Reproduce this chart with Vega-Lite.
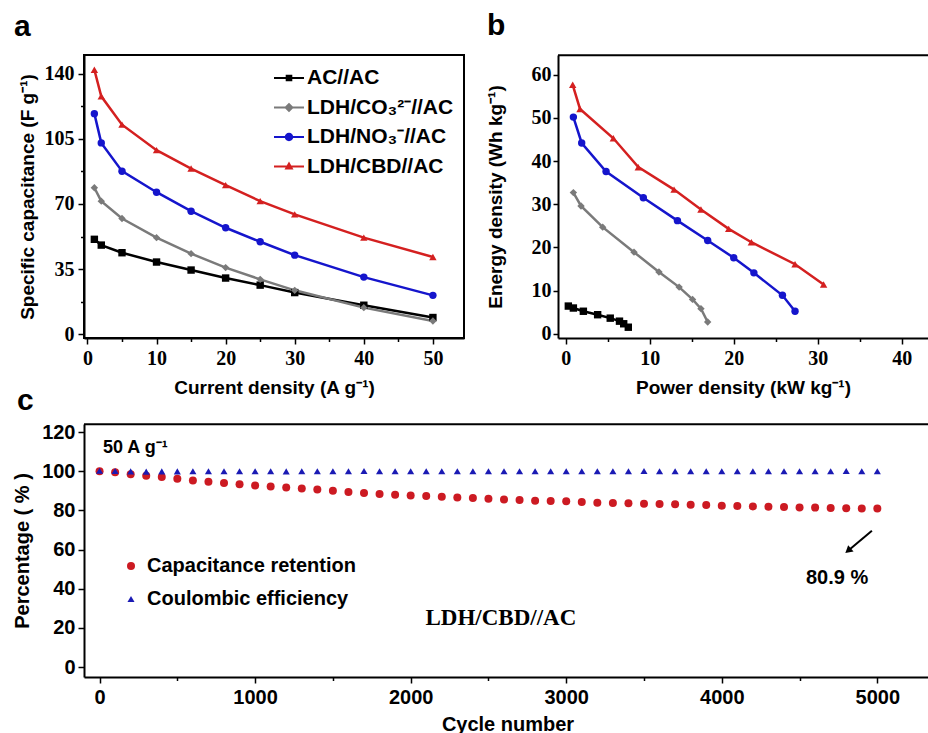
{
  "$schema": "https://vega.github.io/schema/vega-lite/v6.json",
  "background": "white",
  "padding": {"left": 12, "top": 11, "right": 0, "bottom": 0},
  "datasets": {
    "cap": [
      {"s": "AC//AC", "j": 1, "C": 51.0}, {"s": "AC//AC", "j": 2, "C": 47.9}, {"s": "AC//AC", "j": 5, "C": 43.8}, {"s": "AC//AC", "j": 10, "C": 38.8}, {"s": "AC//AC", "j": 15, "C": 34.5}, {"s": "AC//AC", "j": 20, "C": 30.2}, {"s": "AC//AC", "j": 25, "C": 26.4}, {"s": "AC//AC", "j": 30, "C": 22.4}, {"s": "AC//AC", "j": 40, "C": 15.6}, {"s": "AC//AC", "j": 50, "C": 9.0},
      {"s": "LDH/CO₃²⁻//AC", "j": 1, "C": 78.7}, {"s": "LDH/CO₃²⁻//AC", "j": 2, "C": 71.5}, {"s": "LDH/CO₃²⁻//AC", "j": 5, "C": 62.2}, {"s": "LDH/CO₃²⁻//AC", "j": 10, "C": 51.9}, {"s": "LDH/CO₃²⁻//AC", "j": 15, "C": 43.3}, {"s": "LDH/CO₃²⁻//AC", "j": 20, "C": 35.8}, {"s": "LDH/CO₃²⁻//AC", "j": 25, "C": 29.5}, {"s": "LDH/CO₃²⁻//AC", "j": 30, "C": 23.6}, {"s": "LDH/CO₃²⁻//AC", "j": 40, "C": 14.3}, {"s": "LDH/CO₃²⁻//AC", "j": 50, "C": 7.1},
      {"s": "LDH/NO₃⁻//AC", "j": 1, "C": 118.5}, {"s": "LDH/NO₃⁻//AC", "j": 2, "C": 102.8}, {"s": "LDH/NO₃⁻//AC", "j": 5, "C": 87.6}, {"s": "LDH/NO₃⁻//AC", "j": 10, "C": 76.3}, {"s": "LDH/NO₃⁻//AC", "j": 15, "C": 66.1}, {"s": "LDH/NO₃⁻//AC", "j": 20, "C": 57.2}, {"s": "LDH/NO₃⁻//AC", "j": 25, "C": 49.7}, {"s": "LDH/NO₃⁻//AC", "j": 30, "C": 42.5}, {"s": "LDH/NO₃⁻//AC", "j": 40, "C": 30.7}, {"s": "LDH/NO₃⁻//AC", "j": 50, "C": 20.9},
      {"s": "LDH/CBD//AC", "j": 1, "C": 142.1}, {"s": "LDH/CBD//AC", "j": 2, "C": 127.8}, {"s": "LDH/CBD//AC", "j": 5, "C": 112.6}, {"s": "LDH/CBD//AC", "j": 10, "C": 98.9}, {"s": "LDH/CBD//AC", "j": 15, "C": 89.0}, {"s": "LDH/CBD//AC", "j": 20, "C": 80.1}, {"s": "LDH/CBD//AC", "j": 25, "C": 71.5}, {"s": "LDH/CBD//AC", "j": 30, "C": 64.4}, {"s": "LDH/CBD//AC", "j": 40, "C": 51.9}, {"s": "LDH/CBD//AC", "j": 50, "C": 41.5}
    ],
    "energy": [
      {"s": "AC//AC", "P": 0.31, "E": 6.4}, {"s": "AC//AC", "P": 0.91, "E": 5.95}, {"s": "AC//AC", "P": 2.1, "E": 5.2}, {"s": "AC//AC", "P": 3.8, "E": 4.4}, {"s": "AC//AC", "P": 5.3, "E": 3.6}, {"s": "AC//AC", "P": 6.4, "E": 2.9}, {"s": "AC//AC", "P": 6.9, "E": 2.3}, {"s": "AC//AC", "P": 7.45, "E": 1.5},
      {"s": "LDH/CO₃²⁻//AC", "P": 0.91, "E": 32.7}, {"s": "LDH/CO₃²⁻//AC", "P": 1.82, "E": 29.6}, {"s": "LDH/CO₃²⁻//AC", "P": 4.4, "E": 24.7}, {"s": "LDH/CO₃²⁻//AC", "P": 8.13, "E": 18.9}, {"s": "LDH/CO₃²⁻//AC", "P": 11.1, "E": 14.3}, {"s": "LDH/CO₃²⁻//AC", "P": 13.5, "E": 10.8}, {"s": "LDH/CO₃²⁻//AC", "P": 15.1, "E": 7.95}, {"s": "LDH/CO₃²⁻//AC", "P": 16.1, "E": 5.8}, {"s": "LDH/CO₃²⁻//AC", "P": 16.9, "E": 2.7},
      {"s": "LDH/NO₃⁻//AC", "P": 0.91, "E": 50.2}, {"s": "LDH/NO₃⁻//AC", "P": 1.9, "E": 44.2}, {"s": "LDH/NO₃⁻//AC", "P": 4.8, "E": 37.6}, {"s": "LDH/NO₃⁻//AC", "P": 9.24, "E": 31.5}, {"s": "LDH/NO₃⁻//AC", "P": 13.3, "E": 26.2}, {"s": "LDH/NO₃⁻//AC", "P": 16.9, "E": 21.6}, {"s": "LDH/NO₃⁻//AC", "P": 20.0, "E": 17.6}, {"s": "LDH/NO₃⁻//AC", "P": 22.4, "E": 14.1}, {"s": "LDH/NO₃⁻//AC", "P": 25.8, "E": 8.9}, {"s": "LDH/NO₃⁻//AC", "P": 27.3, "E": 5.2},
      {"s": "LDH/CBD//AC", "P": 0.83, "E": 57.7}, {"s": "LDH/CBD//AC", "P": 1.7, "E": 52.1}, {"s": "LDH/CBD//AC", "P": 5.67, "E": 45.3}, {"s": "LDH/CBD//AC", "P": 8.64, "E": 38.6}, {"s": "LDH/CBD//AC", "P": 12.9, "E": 33.4}, {"s": "LDH/CBD//AC", "P": 16.1, "E": 28.8}, {"s": "LDH/CBD//AC", "P": 19.4, "E": 24.3}, {"s": "LDH/CBD//AC", "P": 22.1, "E": 21.2}, {"s": "LDH/CBD//AC", "P": 27.3, "E": 16.1}, {"s": "LDH/CBD//AC", "P": 30.7, "E": 11.4}
    ],
    "cyc": [
      {"series": "Capacitance retention", "cycle": 0, "pct": 100.0}, {"series": "Capacitance retention", "cycle": 100, "pct": 99.4}, {"series": "Capacitance retention", "cycle": 200, "pct": 98.5}, {"series": "Capacitance retention", "cycle": 300, "pct": 97.7}, {"series": "Capacitance retention", "cycle": 400, "pct": 97.0}, {"series": "Capacitance retention", "cycle": 500, "pct": 96.2}, {"series": "Capacitance retention", "cycle": 600, "pct": 95.3}, {"series": "Capacitance retention", "cycle": 700, "pct": 94.6}, {"series": "Capacitance retention", "cycle": 800, "pct": 94.0}, {"series": "Capacitance retention", "cycle": 900, "pct": 93.3}, {"series": "Capacitance retention", "cycle": 1000, "pct": 92.7},
      {"series": "Capacitance retention", "cycle": 1100, "pct": 92.2}, {"series": "Capacitance retention", "cycle": 1200, "pct": 91.7}, {"series": "Capacitance retention", "cycle": 1300, "pct": 91.2}, {"series": "Capacitance retention", "cycle": 1400, "pct": 90.7}, {"series": "Capacitance retention", "cycle": 1500, "pct": 90.0}, {"series": "Capacitance retention", "cycle": 1600, "pct": 89.4}, {"series": "Capacitance retention", "cycle": 1700, "pct": 88.9}, {"series": "Capacitance retention", "cycle": 1800, "pct": 88.4}, {"series": "Capacitance retention", "cycle": 1900, "pct": 88.0}, {"series": "Capacitance retention", "cycle": 2000, "pct": 87.6},
      {"series": "Capacitance retention", "cycle": 2100, "pct": 87.3}, {"series": "Capacitance retention", "cycle": 2200, "pct": 87.0}, {"series": "Capacitance retention", "cycle": 2300, "pct": 86.6}, {"series": "Capacitance retention", "cycle": 2400, "pct": 86.3}, {"series": "Capacitance retention", "cycle": 2500, "pct": 85.9}, {"series": "Capacitance retention", "cycle": 2600, "pct": 85.6}, {"series": "Capacitance retention", "cycle": 2700, "pct": 85.3}, {"series": "Capacitance retention", "cycle": 2800, "pct": 84.9}, {"series": "Capacitance retention", "cycle": 2900, "pct": 84.8}, {"series": "Capacitance retention", "cycle": 3000, "pct": 84.6},
      {"series": "Capacitance retention", "cycle": 3100, "pct": 84.3}, {"series": "Capacitance retention", "cycle": 3200, "pct": 83.9}, {"series": "Capacitance retention", "cycle": 3300, "pct": 83.8}, {"series": "Capacitance retention", "cycle": 3400, "pct": 83.6}, {"series": "Capacitance retention", "cycle": 3500, "pct": 83.4}, {"series": "Capacitance retention", "cycle": 3600, "pct": 83.2}, {"series": "Capacitance retention", "cycle": 3700, "pct": 83.1}, {"series": "Capacitance retention", "cycle": 3800, "pct": 82.9}, {"series": "Capacitance retention", "cycle": 3900, "pct": 82.7}, {"series": "Capacitance retention", "cycle": 4000, "pct": 82.4},
      {"series": "Capacitance retention", "cycle": 4100, "pct": 82.2}, {"series": "Capacitance retention", "cycle": 4200, "pct": 82.0}, {"series": "Capacitance retention", "cycle": 4300, "pct": 81.9}, {"series": "Capacitance retention", "cycle": 4400, "pct": 81.7}, {"series": "Capacitance retention", "cycle": 4500, "pct": 81.5}, {"series": "Capacitance retention", "cycle": 4600, "pct": 81.4}, {"series": "Capacitance retention", "cycle": 4700, "pct": 81.2}, {"series": "Capacitance retention", "cycle": 4800, "pct": 81.1}, {"series": "Capacitance retention", "cycle": 4900, "pct": 81.0}, {"series": "Capacitance retention", "cycle": 5000, "pct": 80.9},
      {"series": "Coulombic efficiency", "cycle": 0, "pct": 100.2}, {"series": "Coulombic efficiency", "cycle": 100, "pct": 100.1}, {"series": "Coulombic efficiency", "cycle": 200, "pct": 99.9}, {"series": "Coulombic efficiency", "cycle": 300, "pct": 99.8}, {"series": "Coulombic efficiency", "cycle": 400, "pct": 99.9}, {"series": "Coulombic efficiency", "cycle": 500, "pct": 99.9}, {"series": "Coulombic efficiency", "cycle": 600, "pct": 100.0}, {"series": "Coulombic efficiency", "cycle": 700, "pct": 100.0}, {"series": "Coulombic efficiency", "cycle": 800, "pct": 100.0}, {"series": "Coulombic efficiency", "cycle": 900, "pct": 100.0}, {"series": "Coulombic efficiency", "cycle": 1000, "pct": 100.0},
      {"series": "Coulombic efficiency", "cycle": 1100, "pct": 100.0}, {"series": "Coulombic efficiency", "cycle": 1200, "pct": 99.9}, {"series": "Coulombic efficiency", "cycle": 1300, "pct": 100.0}, {"series": "Coulombic efficiency", "cycle": 1400, "pct": 100.0}, {"series": "Coulombic efficiency", "cycle": 1500, "pct": 100.0}, {"series": "Coulombic efficiency", "cycle": 1600, "pct": 100.0}, {"series": "Coulombic efficiency", "cycle": 1700, "pct": 100.1}, {"series": "Coulombic efficiency", "cycle": 1800, "pct": 100.0}, {"series": "Coulombic efficiency", "cycle": 1900, "pct": 100.0}, {"series": "Coulombic efficiency", "cycle": 2000, "pct": 100.0},
      {"series": "Coulombic efficiency", "cycle": 2100, "pct": 100.0}, {"series": "Coulombic efficiency", "cycle": 2200, "pct": 100.0}, {"series": "Coulombic efficiency", "cycle": 2300, "pct": 100.0}, {"series": "Coulombic efficiency", "cycle": 2400, "pct": 100.0}, {"series": "Coulombic efficiency", "cycle": 2500, "pct": 100.0}, {"series": "Coulombic efficiency", "cycle": 2600, "pct": 100.0}, {"series": "Coulombic efficiency", "cycle": 2700, "pct": 100.0}, {"series": "Coulombic efficiency", "cycle": 2800, "pct": 100.0}, {"series": "Coulombic efficiency", "cycle": 2900, "pct": 100.0}, {"series": "Coulombic efficiency", "cycle": 3000, "pct": 100.0},
      {"series": "Coulombic efficiency", "cycle": 3100, "pct": 100.0}, {"series": "Coulombic efficiency", "cycle": 3200, "pct": 100.0}, {"series": "Coulombic efficiency", "cycle": 3300, "pct": 100.0}, {"series": "Coulombic efficiency", "cycle": 3400, "pct": 100.0}, {"series": "Coulombic efficiency", "cycle": 3500, "pct": 100.1}, {"series": "Coulombic efficiency", "cycle": 3600, "pct": 100.0}, {"series": "Coulombic efficiency", "cycle": 3700, "pct": 100.0}, {"series": "Coulombic efficiency", "cycle": 3800, "pct": 100.0}, {"series": "Coulombic efficiency", "cycle": 3900, "pct": 100.0}, {"series": "Coulombic efficiency", "cycle": 4000, "pct": 100.0},
      {"series": "Coulombic efficiency", "cycle": 4100, "pct": 100.0}, {"series": "Coulombic efficiency", "cycle": 4200, "pct": 100.0}, {"series": "Coulombic efficiency", "cycle": 4300, "pct": 100.0}, {"series": "Coulombic efficiency", "cycle": 4400, "pct": 100.0}, {"series": "Coulombic efficiency", "cycle": 4500, "pct": 100.0}, {"series": "Coulombic efficiency", "cycle": 4600, "pct": 100.0}, {"series": "Coulombic efficiency", "cycle": 4700, "pct": 100.0}, {"series": "Coulombic efficiency", "cycle": 4800, "pct": 100.1}, {"series": "Coulombic efficiency", "cycle": 4900, "pct": 100.0}, {"series": "Coulombic efficiency", "cycle": 5000, "pct": 100.0}
    ]
  },
  "vconcat": [
    {
      "hconcat": [
        {
          "width": 380,
          "height": 283,
          "view": {"stroke": "black", "strokeWidth": 2},
          "title": {"text": "a", "dx": -70, "offset": 13},
          "data": {"name": "cap"},
          "encoding": {
            "x": {"field": "j", "type": "quantitative", "scale": {"domain": [-0.5, 54.5], "nice": false, "zero": false},
              "axis": {"title": "Current density (A g⁻¹)", "values": [0, 5, 10, 15, 20, 25, 30, 35, 40, 45, 50], "labelExpr": "datum.value % 10 === 0 ? datum.label : ''", "tickSize": {"condition": {"test": "datum.value % 10 === 0", "value": 6}, "value": 3.5}, "labelPadding": 4, "titlePadding": 10}},
            "y": {"field": "C", "type": "quantitative", "scale": {"domain": [-2, 150], "nice": false, "zero": false},
              "axis": {"title": "Specific capacitance (F g⁻¹)", "values": [0, 17.5, 35, 52.5, 70, 87.5, 105, 122.5, 140], "labelExpr": "datum.value % 35 === 0 ? datum.label : ''", "tickSize": {"condition": {"test": "datum.value % 35 === 0", "value": 6}, "value": 3.5}, "labelPadding": 4, "titlePadding": 7}}
          },
          "layer": [
            {
              "mark": {"type": "line", "strokeWidth": 2.5},
              "encoding": {"color": {"field": "s", "type": "nominal", "scale": {"domain": ["AC//AC", "LDH/CO₃²⁻//AC", "LDH/NO₃⁻//AC", "LDH/CBD//AC"], "range": ["#000000", "#7a7a7a", "#1515cc", "#d42020"]}, "legend": null}}
            },
            {
              "mark": {"type": "point", "filled": true, "opacity": 1, "size": 55},
              "encoding": {
                "color": {"field": "s", "type": "nominal", "scale": {"domain": ["AC//AC", "LDH/CO₃²⁻//AC", "LDH/NO₃⁻//AC", "LDH/CBD//AC"], "range": ["#000000", "#7a7a7a", "#1515cc", "#d42020"]}, "legend": null},
                "shape": {"field": "s", "type": "nominal", "scale": {"domain": ["AC//AC", "LDH/CO₃²⁻//AC", "LDH/NO₃⁻//AC", "LDH/CBD//AC"], "range": ["square", "diamond", "circle", "triangle-up"]}, "legend": null}
              }
            },
            {
              "mark": {"type": "point", "filled": true, "opacity": 0},
              "encoding": {
                "color": {"field": "s", "type": "nominal", "scale": {"domain": ["AC//AC", "LDH/CO₃²⁻//AC", "LDH/NO₃⁻//AC", "LDH/CBD//AC"], "range": ["#000000", "#7a7a7a", "#1515cc", "#d42020"]},
                  "legend": {"title": null, "orient": "none", "legendX": 190, "legendY": 8, "symbolSize": 900, "symbolStrokeWidth": 0, "symbolOpacity": 1, "labelFont": "Liberation Sans", "labelFontWeight": "bold", "labelFontSize": 21, "labelColor": "black", "rowPadding": 4.5, "labelOffset": 3, "labelLimit": 400}},
                "shape": {"field": "s", "type": "nominal", "scale": {"domain": ["AC//AC", "LDH/CO₃²⁻//AC", "LDH/NO₃⁻//AC", "LDH/CBD//AC"], "range": ["M-1,-0.07H1V0.07H-1Z M-0.22,-0.22H0.22V0.22H-0.22Z", "M-1,-0.07H1V0.07H-1Z M0,-0.32L0.32,0L0,0.32L-0.32,0Z", "M-1,-0.07H1V0.07H-1Z M0.28,0A0.28,0.28 0 1,1 -0.28,0A0.28,0.28 0 1,1 0.28,0Z", "M-1,-0.07H1V0.07H-1Z M0,-0.33L0.3,0.2L-0.3,0.2Z"]},
                  "legend": {"title": null, "orient": "none", "legendX": 190, "legendY": 8, "symbolSize": 900, "symbolStrokeWidth": 0, "symbolOpacity": 1, "labelFont": "Liberation Sans", "labelFontWeight": "bold", "labelFontSize": 21, "labelColor": "black", "rowPadding": 4.5, "labelOffset": 3, "labelLimit": 400}}
              }
            }
          ],
          "resolve": {"scale": {"color": "independent", "shape": "independent"}}
        },
        {
          "width": 370,
          "height": 283,
          "title": {"text": "b", "dx": -71, "offset": 13},
          "data": {"name": "energy"},
          "layer": [
            {
              "mark": {"type": "line", "strokeWidth": 2.5},
              "encoding": {
                "x": {"field": "P", "type": "quantitative", "scale": {"domain": [-0.92, 43.13], "nice": false, "zero": false},
                  "axis": {"title": "Power density (kW kg⁻¹)", "values": [0, 5, 10, 15, 20, 25, 30, 35, 40], "labelExpr": "datum.value % 10 === 0 ? datum.label : ''", "tickSize": {"condition": {"test": "datum.value % 10 === 0", "value": 6}, "value": 3.5}, "labelPadding": 4, "titlePadding": 10}},
                "y": {"field": "E", "type": "quantitative", "scale": {"domain": [-1.0, 64.6], "nice": false, "zero": false},
                  "axis": {"title": "Energy density (Wh kg⁻¹)", "values": [0, 5, 10, 15, 20, 25, 30, 35, 40, 45, 50, 55, 60], "labelExpr": "datum.value % 10 === 0 ? datum.label : ''", "tickSize": {"condition": {"test": "datum.value % 10 === 0", "value": 5}, "value": 3}, "labelPadding": 2, "titlePadding": 26}},
                "color": {"field": "s", "type": "nominal", "scale": {"domain": ["AC//AC", "LDH/CO₃²⁻//AC", "LDH/NO₃⁻//AC", "LDH/CBD//AC"], "range": ["#000000", "#7a7a7a", "#1515cc", "#d42020"]}, "legend": null}
              }
            },
            {
              "mark": {"type": "point", "filled": true, "opacity": 1, "size": 55},
              "encoding": {
                "x": {"field": "P", "type": "quantitative", "scale": {"domain": [-0.92, 43.13], "nice": false, "zero": false},
                  "axis": {"title": "Power density (kW kg⁻¹)", "values": [0, 5, 10, 15, 20, 25, 30, 35, 40], "labelExpr": "datum.value % 10 === 0 ? datum.label : ''", "tickSize": {"condition": {"test": "datum.value % 10 === 0", "value": 6}, "value": 3.5}, "labelPadding": 4, "titlePadding": 10}},
                "y": {"field": "E", "type": "quantitative", "scale": {"domain": [-1.0, 64.6], "nice": false, "zero": false},
                  "axis": {"title": "Energy density (Wh kg⁻¹)", "values": [0, 5, 10, 15, 20, 25, 30, 35, 40, 45, 50, 55, 60], "labelExpr": "datum.value % 10 === 0 ? datum.label : ''", "tickSize": {"condition": {"test": "datum.value % 10 === 0", "value": 5}, "value": 3}, "labelPadding": 2, "titlePadding": 26}},
                "color": {"field": "s", "type": "nominal", "scale": {"domain": ["AC//AC", "LDH/CO₃²⁻//AC", "LDH/NO₃⁻//AC", "LDH/CBD//AC"], "range": ["#000000", "#7a7a7a", "#1515cc", "#d42020"]}, "legend": null},
                "shape": {"field": "s", "type": "nominal", "scale": {"domain": ["AC//AC", "LDH/CO₃²⁻//AC", "LDH/NO₃⁻//AC", "LDH/CBD//AC"], "range": ["square", "diamond", "circle", "triangle-up"]}, "legend": null}
              }
            },
            {
              "data": {"values": [{}]},
              "mark": {"type": "rule", "strokeWidth": 2, "color": "black"},
              "encoding": {"x": {"datum": -0.92, "type": "quantitative"}, "x2": {"datum": 43.13}, "y": {"datum": 64.55, "type": "quantitative"}, "y2": {"datum": 64.55}}
            }
          ]
        }
      ],
      "spacing": 94,
      "bounds": "flush"
    },
    {
      "width": 847,
      "height": 253,
      "title": {"text": "c", "dx": -67, "offset": 6},
      "layer": [
        {
          "data": {"name": "cyc"},
          "mark": {"type": "point", "filled": true, "opacity": 1},
          "encoding": {
            "x": {"field": "cycle", "type": "quantitative", "scale": {"domain": [-100, 5345], "nice": false, "zero": false},
              "axis": {"title": "Cycle number", "titleFontSize": 20, "labelFont": "Liberation Sans", "values": [0, 500, 1000, 1500, 2000, 2500, 3000, 3500, 4000, 4500, 5000], "labelExpr": "datum.value % 1000 === 0 ? datum.label : ''", "format": "d", "tickSize": {"condition": {"test": "datum.value % 1000 === 0", "value": 6}, "value": 3.5}, "labelPadding": 4, "titlePadding": 7}},
            "y": {"field": "pct", "type": "quantitative", "scale": {"domain": [-5.1, 124.1], "nice": false, "zero": false},
              "axis": {"title": "Percentage ( % )", "titleFontSize": 20, "labelFont": "Liberation Sans", "values": [0, 10, 20, 30, 40, 50, 60, 70, 80, 90, 100, 110, 120], "labelExpr": "datum.value % 20 === 0 ? datum.label : ''", "tickSize": {"condition": {"test": "datum.value % 20 === 0", "value": 6}, "value": 3.5}, "labelPadding": 3, "titlePadding": 9}},
            "color": {"field": "series", "type": "nominal", "scale": {"domain": ["Capacitance retention", "Coulombic efficiency"], "range": ["#cc1a22", "#1a1ab4"]},
              "legend": {"title": null, "orient": "none", "legendX": 37, "legendY": 132, "symbolSize": 45, "symbolStrokeWidth": 0, "labelFont": "Liberation Sans", "labelFontWeight": "bold", "labelFontSize": 20, "labelColor": "black", "rowPadding": 13, "labelOffset": 6, "labelLimit": 400}},
            "shape": {"field": "series", "type": "nominal", "scale": {"domain": ["Capacitance retention", "Coulombic efficiency"], "range": ["circle", "triangle-up"]},
              "legend": {"title": null, "orient": "none", "legendX": 37, "legendY": 132, "symbolSize": 45, "symbolStrokeWidth": 0, "labelFont": "Liberation Sans", "labelFontWeight": "bold", "labelFontSize": 20, "labelColor": "black", "rowPadding": 13, "labelOffset": 6, "labelLimit": 400}},
            "size": {"field": "series", "type": "nominal", "scale": {"domain": ["Capacitance retention", "Coulombic efficiency"], "range": [64, 50]}, "legend": null}
          }
        },
        {
          "data": {"values": [{}]},
          "mark": {"type": "text", "text": "50 A g⁻¹", "align": "left", "baseline": "middle", "font": "Liberation Sans", "fontWeight": "bold", "fontSize": 18, "color": "black"},
          "encoding": {"x": {"datum": 22, "type": "quantitative"}, "y": {"datum": 112, "type": "quantitative"}}
        },
        {
          "data": {"values": [{}]},
          "mark": {"type": "text", "text": "80.9 %", "align": "center", "baseline": "middle", "font": "Liberation Sans", "fontWeight": "bold", "fontSize": 20, "color": "black"},
          "encoding": {"x": {"datum": 4741, "type": "quantitative"}, "y": {"datum": 45.6, "type": "quantitative"}}
        },
        {
          "data": {"values": [{}]},
          "mark": {"type": "text", "text": "LDH/CBD//AC", "align": "center", "baseline": "middle", "font": "Liberation Serif", "fontWeight": "bold", "fontSize": 23, "color": "black"},
          "encoding": {"x": {"datum": 2580, "type": "quantitative"}, "y": {"datum": 25.2, "type": "quantitative"}}
        },
        {
          "data": {"values": [{}]},
          "mark": {"type": "rule", "strokeWidth": 2, "color": "black"},
          "encoding": {"x": {"datum": 4965, "type": "quantitative"}, "y": {"datum": 69.6, "type": "quantitative"}, "x2": {"datum": 4810}, "y2": {"datum": 59.2}}
        },
        {
          "data": {"values": [{}]},
          "mark": {"type": "point", "shape": "triangle-up", "filled": true, "color": "black", "opacity": 1, "size": 70, "angle": 230},
          "encoding": {"x": {"datum": 4812, "type": "quantitative"}, "y": {"datum": 59.4, "type": "quantitative"}}
        },
        {
          "data": {"values": [{}]},
          "mark": {"type": "rule", "strokeWidth": 2, "color": "black"},
          "encoding": {"x": {"datum": -100, "type": "quantitative"}, "x2": {"datum": 5345}, "y": {"datum": 124.0, "type": "quantitative"}, "y2": {"datum": 124.0}}
        }
      ]
    }
  ],
  "spacing": -12,
  "resolve": {"scale": {"color": "independent", "shape": "independent", "size": "independent"}},
  "config": {
    "view": {"stroke": null},
    "axis": {"grid": false, "domainColor": "black", "domainWidth": 2, "tickColor": "black", "tickWidth": 1.5, "labelColor": "black", "titleColor": "black", "labelFont": "Liberation Serif", "labelFontWeight": "bold", "labelFontSize": 20, "titleFont": "Liberation Sans", "titleFontWeight": "bold", "titleFontSize": 19, "labelOverlap": false, "labelFlush": false},
    "title": {"font": "Liberation Sans", "fontWeight": "bold", "fontSize": 30, "color": "black", "anchor": "start", "frame": "group"}
  }
}
